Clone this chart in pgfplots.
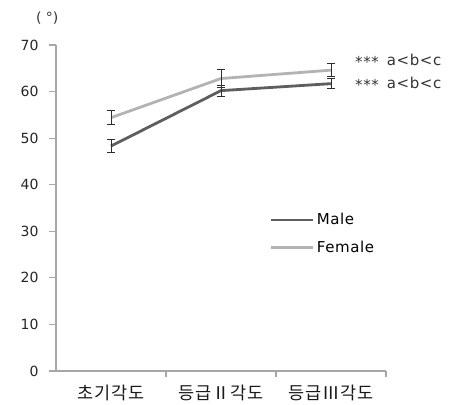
\documentclass[border=0pt]{standalone}
\usepackage{fontspec}
\setmainfont{DejaVu Sans}
\newfontfamily\wide[LetterSpace=4]{DejaVu Sans}
\newfontfamily\kr[LetterSpace=4]{Noto Sans CJK KR}
\usepackage{pgfplots}
\pgfplotsset{compat=1.18}
\definecolor{maleC}{HTML}{5E5E5E}
\definecolor{femaleC}{HTML}{B3B3B3}
\definecolor{axisC}{HTML}{A6A6A6}
\definecolor{errC}{HTML}{2E2E2E}
\begin{document}
\begin{tikzpicture}[x=1pt,y=1pt]
\useasboundingbox (0,0) rectangle (452,404);
\begin{axis}[
  at={(56pt,33pt)}, anchor=south west,
  scale only axis, width=330pt, height=326pt,
  xmin=-0.5, xmax=2.5, ymin=0, ymax=70,
  axis lines*=left,
  axis line style={draw=axisC, line width=1.1pt},
  clip=false,
  xtick={0,1,2},
  xticklabels={{\kr 초기각도},{\kr 등급Ⅱ각도},{\kr 등급Ⅲ각도}},
  major x tick style={draw=none},
  minor xtick={0.5,1.5,2.5},
  minor x tick style={draw=axisC, line width=1.1pt},
  minor tick length=6pt,
  ytick={0,10,...,70},
  y tick style={draw=axisC, line width=1.1pt},
  major tick length=7pt,
  tick align=outside,
  /pgf/number format/assume math mode=true,
  yticklabel style={font=\fontsize{14}{16}\selectfont, text=black!85, xshift=-7pt},
  xticklabel style={font=\fontsize{17.5}{19}\selectfont, text=black!90, yshift=-3pt},
  legend style={at={(rel axis cs:0.648,0.49)}, anchor=north west, draw=none, fill=none,
    font=\wide\fontsize{15}{17}\selectfont, row sep=11pt, inner sep=0pt},
  legend cell align=left,
  legend image code/.code={\draw[#1, line width=2.8pt] (0pt,0pt) -- (42pt,0pt);},
]
\addplot[maleC, line width=2.8pt,
  error bars/.cd, y dir=both, y explicit,
  error bar style={errC, line width=1pt},
  error mark options={rotate=90, errC, line width=1pt, mark size=4pt}]
  table[x=x, y=y, y error=e] {
x y e
0 48.3 1.4
1 60.2 1.2
2 61.7 1.0
};
\addlegendentry{Male}
\addplot[femaleC, line width=2.8pt,
  error bars/.cd, y dir=both, y explicit,
  error bar style={errC, line width=1pt},
  error mark options={rotate=90, errC, line width=1pt, mark size=4pt}]
  table[x=x, y=y, y error=e] {
x y e
0 54.4 1.5
1 62.8 1.9
2 64.6 1.4
};
\addlegendentry{Female}
\node[anchor=west, font=\wide\fontsize{15}{17}\selectfont, text=black!80, inner sep=0pt] at (axis cs:2.218,66.6) {\raisebox{-0.25ex}{***}\hspace{8pt}a<b<c};
\node[anchor=west, font=\wide\fontsize{15}{17}\selectfont, text=black!80, inner sep=0pt] at (axis cs:2.218,61.6) {\raisebox{-0.25ex}{***}\hspace{8pt}a<b<c};
\node[anchor=center, font=\fontsize{14}{16}\selectfont, text=black!80, inner sep=0pt] at (axis cs:-0.58,75.8) {(\ °)};
\end{axis}
\end{tikzpicture}
\end{document}
